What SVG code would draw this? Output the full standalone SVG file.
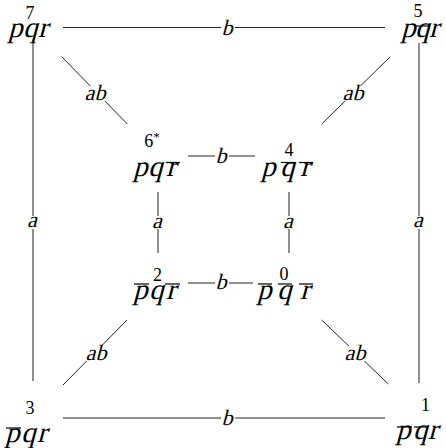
<svg xmlns="http://www.w3.org/2000/svg" width="446" height="448" viewBox="0 0 446 448">
<style>
.m{font-family:"Liberation Serif",serif;font-size:29px;fill:#000}
.d{font-family:"Liberation Serif",serif;font-size:18px;fill:#000;text-anchor:middle}
.e{font-family:"Liberation Serif",serif;font-size:22px;fill:#000;text-anchor:middle}
.o{stroke:#000;stroke-width:1.2}
.c{stroke:#222;stroke-width:1;fill:none}
.bg{fill:#fff}
</style>
<rect width="446" height="448" fill="#fff"/>
<g id="connectors">
<line class="c" x1="63" y1="27.5" x2="385" y2="27.5"/>
<rect class="bg" x="221" y="19" width="14" height="17"/><text class="e" transform="translate(227,34.5) skewX(-15)">b</text>
<line class="c" x1="63" y1="418" x2="385" y2="418"/>
<rect class="bg" x="221" y="410" width="14" height="17"/><text class="e" transform="translate(227,425) skewX(-15)">b</text>
<line class="c" x1="33" y1="43" x2="33" y2="381"/>
<rect class="bg" x="27" y="216" width="12" height="13"/><text class="e" transform="translate(32,227) skewX(-15)">a</text>
<line class="c" x1="419" y1="43" x2="419" y2="383"/>
<rect class="bg" x="413" y="216" width="12" height="13"/><text class="e" transform="translate(418,227) skewX(-15)">a</text>
<line class="c" x1="158" y1="192" x2="158" y2="253"/>
<rect class="bg" x="152" y="216" width="12" height="13"/><text class="e" transform="translate(157,228) skewX(-15)">a</text>
<line class="c" x1="289" y1="192" x2="289" y2="253"/>
<rect class="bg" x="283" y="216" width="12" height="13"/><text class="e" transform="translate(288,228) skewX(-15)">a</text>
<line class="c" x1="188" y1="156" x2="255" y2="156"/>
<rect class="bg" x="215" y="148" width="14" height="16"/><text class="e" transform="translate(221,163) skewX(-15)">b</text>
<line class="c" x1="188" y1="283" x2="253" y2="283"/>
<rect class="bg" x="215" y="275" width="14" height="16"/><text class="e" transform="translate(221,289) skewX(-15)">b</text>
<line class="c" x1="61.7" y1="56.7" x2="127.3" y2="124"/>
<rect class="bg" x="85" y="86" width="23" height="15"/><text class="e" transform="translate(95,100) skewX(-15)">ab</text>
<line class="c" x1="390" y1="57" x2="321.7" y2="124"/>
<rect class="bg" x="343" y="86" width="23" height="15"/><text class="e" transform="translate(353,100) skewX(-15)">ab</text>
<line class="c" x1="127" y1="320" x2="63" y2="385"/>
<rect class="bg" x="86" y="346" width="23" height="15"/><text class="e" transform="translate(96,360) skewX(-15)">ab</text>
<line class="c" x1="321.7" y1="320" x2="388.3" y2="384"/>
<rect class="bg" x="345" y="346" width="23" height="15"/><text class="e" transform="translate(355,360) skewX(-15)">ab</text>
</g>
<g id="n7">
<text class="d" x="30" y="19">7</text>
<text class="m" transform="translate(8,37) skewX(-15)">p</text><text class="m" transform="translate(23,37) skewX(-15)">q</text><text class="m" transform="translate(38,37) skewX(-15)">r</text>
</g>
<g id="n5">
<text class="d" x="418" y="17">5</text>
<text class="m" transform="translate(401,37) skewX(-15)">p</text><text class="m" transform="translate(415,37) skewX(-15)">q</text><text class="m" transform="translate(429,37) skewX(-15)">r</text>
<line class="o" x1="415" y1="26" x2="429" y2="26"/>
</g>
<g id="n6">
<text class="d" x="152" y="147">6<tspan font-size="13" dy="-6">*</tspan></text>
<text class="m" transform="translate(133,176) skewX(-15)">p</text><text class="m" transform="translate(148,176) skewX(-15)">q</text><text class="m" transform="translate(166,176) skewX(-15)">r</text>
<line class="o" x1="166" y1="162.5" x2="180" y2="162.5"/>
</g>
<g id="n4">
<text class="d" x="289" y="156">4</text>
<text class="m" transform="translate(261,176) skewX(-15)">p</text><text class="m" transform="translate(280,176) skewX(-15)">q</text><text class="m" transform="translate(300,176) skewX(-15)">r</text>
<line class="o" x1="281" y1="162.5" x2="295" y2="162.5"/>
<line class="o" x1="299" y1="162.5" x2="313" y2="162.5"/>
</g>
<g id="n2">
<text class="d" x="157.5" y="281">2</text>
<text class="m" transform="translate(133,299) skewX(-15)">p</text><text class="m" transform="translate(149,299) skewX(-15)">q</text><text class="m" transform="translate(166,299) skewX(-15)">r</text>
<line class="o" x1="134" y1="284" x2="149" y2="284"/>
<line class="o" x1="165" y1="284" x2="180" y2="284"/>
</g>
<g id="n0">
<text class="d" x="284" y="280">0</text>
<text class="m" transform="translate(257,299) skewX(-15)">p</text><text class="m" transform="translate(277,299) skewX(-15)">q</text><text class="m" transform="translate(300,299) skewX(-15)">r</text>
<line class="o" x1="258" y1="284" x2="272" y2="284"/>
<line class="o" x1="278" y1="284" x2="292" y2="284"/>
<line class="o" x1="299" y1="284" x2="313" y2="284"/>
</g>
<g id="n3">
<text class="d" x="30" y="414">3</text>
<text class="m" transform="translate(5,442) skewX(-15)">p</text><text class="m" transform="translate(21,442) skewX(-15)">q</text><text class="m" transform="translate(37,442) skewX(-15)">r</text>
<line class="o" x1="6" y1="428" x2="21" y2="428"/>
</g>
<g id="n1">
<text class="d" x="425.5" y="411">1</text>
<text class="m" transform="translate(396,439) skewX(-15)">p</text><text class="m" transform="translate(413,439) skewX(-15)">q</text><text class="m" transform="translate(428,439) skewX(-15)">r</text>
<line class="o" x1="397" y1="427" x2="412" y2="427"/>
<line class="o" x1="414" y1="427" x2="427" y2="427"/>
</g>
</svg>
